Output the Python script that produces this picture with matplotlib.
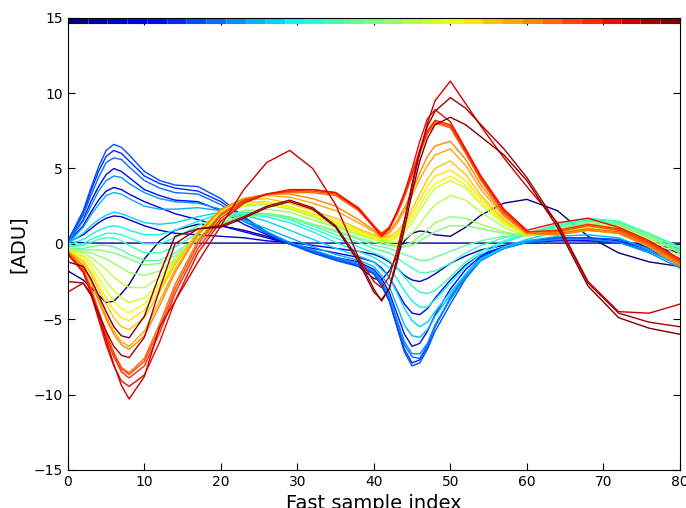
import numpy as np
import matplotlib
matplotlib.use('Agg')
import matplotlib.pyplot as plt

# sample positions (fast sample index)
x = [0, 2, 3, 4, 5, 6, 7, 8, 10, 12, 14, 17, 20, 23, 26, 29, 32, 35, 38,
     40, 41, 42, 43, 44, 45, 46, 47, 48, 50, 52, 54, 57, 60, 64, 68, 72, 76, 80]

# traces, in colour order (dark blue -> dark red)
navy_odd = [-1.8, -2.4, -2.9, -3.4, -3.9, -3.8, -3.3, -2.7, -1.0, 0.2, 0.9, 1.3, 1.2, 0.9, 0.5, 0.0, -0.5, -1.0, -1.5,
            -2.3, -2.4, -1.8, -0.8, 0.2, 0.7, 0.85, 0.8, 0.6, 0.5, 1.1, 1.9, 2.7, 2.95, 2.2, 0.5, -0.6, -1.2, -1.5]
flat_zero = [0.1, 0.08, 0.06, 0.05, 0.05, 0.05, 0.05, 0.05, 0.05, 0.05, 0.05, 0.05, 0.05, 0.05, 0.05, 0.05, 0.05, 0.05, 0.05,
             0.05, 0.05, 0.05, 0.05, 0.05, 0.05, 0.05, 0.05, 0.05, 0.05, 0.05, 0.05, 0.05, 0.05, 0.05, 0.05, 0.05, 0.05, 0.05]
blue_a = [0.1, 0.6, 1.0, 1.4, 1.7, 1.85, 1.8, 1.6, 1.2, 0.9, 0.7, 0.6, 0.5, 0.4, 0.2, 0.1, -0.1, -0.3, -0.5,
          -0.7, -0.9, -1.2, -1.6, -2.1, -2.4, -2.5, -2.3, -2.0, -1.3, -0.8, -0.4, -0.1, 0.1, 0.2, 0.2, 0.1, -0.1, -0.3]
blue_b = [0.1, 1.2, 2.1, 2.9, 3.5, 3.74, 3.6, 3.3, 2.8, 2.4, 2.0, 1.6, 1.2, 0.8, 0.4, 0.0, -0.3, -0.6, -0.9,
          -1.2, -1.6, -2.2, -3.1, -4.0, -4.6, -4.7, -4.3, -3.6, -2.4, -1.4, -0.7, -0.2, 0.1, 0.3, 0.3, 0.1, -0.2, -0.6]
blue_c = [0.1, 1.6, 2.8, 3.8, 4.6, 5.0, 4.8, 4.4, 3.6, 3.2, 2.9, 2.8, 2.2, 1.3, 0.6, 0.0, -0.5, -0.9, -1.2,
          -1.7, -2.3, -3.2, -4.6, -6.0, -6.8, -6.6, -5.8, -4.7, -3.0, -1.7, -0.8, -0.2, 0.1, 0.3, 0.2, 0.1, -0.2, -0.5]
blue_d = [0.2, 2.0, 3.5, 4.8, 5.8, 6.2, 6.0, 5.5, 4.5, 4.0, 3.7, 3.5, 2.8, 1.7, 0.7, 0.0, -0.6, -1.0, -1.4,
          -2.0, -2.7, -3.7, -5.4, -7.0, -7.9, -7.7, -6.8, -5.5, -3.6, -2.0, -0.9, -0.3, 0.1, 0.4, 0.4, 0.2, -0.4, -1.2]
blue_e = [0.2, 2.2, 3.7, 5.1, 6.2, 6.6, 6.4, 5.9, 4.8, 4.2, 3.9, 3.8, 3.0, 1.8, 0.8, 0.0, -0.6, -1.1, -1.5,
          -2.0, -2.8, -3.8, -5.5, -7.2, -8.1, -7.9, -7.0, -5.8, -4.0, -2.3, -1.1, -0.3, 0.2, 0.4, 0.4, 0.3, -0.3, -1.0]
blue_f = [0.1, 1.9, 3.2, 4.4, 5.4, 5.7, 5.6, 5.1, 4.2, 3.7, 3.4, 3.3, 2.6, 1.5, 0.7, 0.0, -0.5, -1.0, -1.4,
          -1.9, -2.6, -3.6, -5.1, -6.7, -7.5, -7.6, -6.7, -5.4, -3.6, -2.1, -1.0, -0.3, 0.1, 0.3, 0.3, 0.1, -0.5, -1.4]
blue_g = [0.1, 1.5, 2.5, 3.5, 4.2, 4.5, 4.4, 4.0, 3.4, 3.0, 2.8, 2.7, 2.3, 1.5, 0.8, 0.1, -0.4, -0.9, -1.3,
          -1.8, -2.5, -3.4, -5.0, -6.5, -7.3, -7.3, -6.6, -5.4, -3.7, -2.2, -1.1, -0.3, 0.1, 0.3, 0.3, 0.1, -0.6, -1.6]
blue_h = [0.0, 1.1, 1.9, 2.6, 3.2, 3.4, 3.3, 3.0, 2.5, 2.3, 2.3, 2.4, 2.2, 1.6, 1.0, 0.4, -0.2, -0.7, -1.1,
          -1.5, -2.1, -2.8, -4.1, -5.4, -6.1, -6.2, -5.7, -4.8, -3.4, -2.0, -1.0, -0.3, 0.2, 0.5, 0.6, 0.4, -0.4, -1.5]
sky_a = [0.0, 0.7, 1.2, 1.6, 1.9, 2.1, 2.0, 1.8, 1.4, 1.3, 1.4, 1.8, 2.1, 1.9, 1.5, 0.9, 0.3, -0.3, -0.8,
         -1.2, -1.7, -2.2, -3.2, -4.3, -5.1, -5.5, -5.2, -4.5, -3.2, -2.0, -1.0, -0.2, 0.3, 0.8, 1.0, 0.7, -0.1, -1.0]
cyan_a = [-0.1, 0.3, 0.6, 0.9, 1.1, 1.2, 1.1, 0.9, 0.6, 0.6, 0.9, 1.5, 2.0, 2.0, 1.8, 1.4, 0.8, 0.1, -0.5,
          -0.9, -1.2, -1.6, -2.3, -3.1, -3.8, -4.2, -4.2, -3.7, -2.6, -1.5, -0.7, 0.1, 0.6, 1.2, 1.6, 1.3, 0.4, -0.4]
cyan_b = [-0.2, 0.0, 0.3, 0.5, 0.7, 0.7, 0.6, 0.4, 0.0, 0.0, 0.4, 1.2, 1.9, 2.1, 2.0, 1.6, 1.0, 0.4, -0.2,
          -0.6, -0.8, -1.1, -1.6, -2.2, -2.8, -3.2, -3.3, -3.1, -2.2, -1.2, -0.5, 0.2, 0.7, 1.3, 1.7, 1.5, 0.6, -0.3]
teal_a = [-0.2, -0.1, 0.1, 0.3, 0.4, 0.4, 0.2, -0.1, -0.6, -0.6, -0.2, 0.7, 1.6, 2.0, 2.0, 1.7, 1.2, 0.6, 0.1,
          -0.3, -0.45, -0.6, -0.9, -1.3, -1.6, -1.9, -1.9, -1.8, -1.3, -0.6, -0.1, 0.4, 0.7, 1.2, 1.6, 1.5, 0.7, -0.2]
teal_b = [-0.3, -0.3, -0.2, -0.1, -0.1, -0.2, -0.4, -0.7, -1.1, -1.1, -0.6, 0.4, 1.4, 1.9, 2.0, 1.8, 1.3, 0.8, 0.3,
          -0.1, -0.2, -0.3, -0.5, -0.7, -0.9, -1.1, -1.1, -0.9, -0.5, -0.1, 0.2, 0.5, 0.6, 1.1, 1.5, 1.4, 0.6, -0.3]
green_a = [-0.3, -0.4, -0.4, -0.4, -0.5, -0.6, -0.8, -1.0, -1.4, -1.3, -0.8, 0.3, 1.3, 1.8, 1.9, 1.7, 1.3, 0.9, 0.4,
           0.1, 0.0, -0.1, -0.2, -0.2, -0.1, 0.2, 0.5, 0.8, 1.2, 1.2, 1.0, 0.7, 0.5, 1.0, 1.4, 1.3, 0.5, -0.5]
green_b = [-0.4, -0.5, -0.6, -0.8, -1.0, -1.3, -1.6, -1.9, -2.1, -1.8, -1.0, 0.4, 1.6, 2.2, 2.3, 2.1, 1.6, 1.1, 0.6,
           0.3, 0.1, 0.0, -0.1, -0.1, 0.1, 0.5, 0.9, 1.4, 1.8, 1.7, 1.3, 0.8, 0.5, 0.9, 1.3, 1.2, 0.4, -0.6]
lime_a = [-0.4, -0.6, -0.9, -1.3, -1.7, -2.2, -2.6, -2.9, -2.9, -2.2, -1.1, 0.6, 1.9, 2.5, 2.6, 2.3, 1.8, 1.2, 0.6,
          0.3, 0.2, 0.1, 0.1, 0.3, 0.7, 1.3, 2.0, 2.6, 3.2, 2.9, 2.1, 1.1, 0.5, 0.8, 1.2, 1.1, 0.3, -0.8]
lime_b = [-0.4, -0.8, -1.2, -1.8, -2.5, -3.1, -3.6, -3.9, -3.6, -2.6, -1.2, 0.7, 2.0, 2.6, 2.7, 2.4, 1.9, 1.3, 0.7,
          0.3, 0.2, 0.2, 0.4, 0.8, 1.4, 2.2, 3.0, 3.7, 4.2, 3.7, 2.6, 1.3, 0.6, 0.8, 1.1, 0.9, 0.1, -1.0]
yellow_a = [-0.4, -0.9, -1.5, -2.3, -3.1, -3.8, -4.3, -4.57, -4.0, -2.8, -1.3, 0.7, 2.1, 2.7, 2.7, 2.4, 1.9, 1.4, 0.8,
            0.4, 0.3, 0.3, 0.5, 1.0, 1.7, 2.5, 3.4, 4.0, 4.5, 3.9, 2.8, 1.4, 0.6, 0.7, 1.0, 0.8, 0.0, -1.1]
yellow_b = [-0.4, -1.1, -1.8, -2.7, -3.6, -4.4, -4.9, -5.1, -4.4, -3.0, -1.3, 0.8, 2.2, 2.8, 2.8, 2.5, 2.0, 1.5, 0.9,
            0.5, 0.3, 0.4, 0.6, 1.2, 2.0, 2.9, 3.8, 4.5, 4.9, 4.2, 3.0, 1.5, 0.6, 0.7, 1.0, 0.7, -0.1, -1.2]
amber_a = [-0.5, -1.2, -2.0, -3.0, -4.0, -4.9, -5.5, -5.7, -4.9, -3.2, -1.4, 0.8, 2.3, 2.9, 3.0, 2.7, 2.2, 1.7, 1.0,
           0.6, 0.4, 0.5, 0.8, 1.4, 2.3, 3.3, 4.3, 5.0, 5.5, 4.6, 3.2, 1.6, 0.6, 0.6, 0.9, 0.7, -0.2, -1.3]
orange_a = [-0.5, -1.4, -2.4, -3.6, -4.8, -5.8, -6.5, -6.8, -5.8, -3.8, -1.7, 0.7, 2.3, 3.0, 3.2, 3.1, 2.7, 2.2, 1.4,
            0.8, 0.4, 0.7, 1.3, 2.2, 3.2, 4.3, 5.2, 5.9, 6.3, 5.2, 3.6, 1.8, 0.7, 0.6, 0.9, 0.7, -0.2, -1.4]
orange_b = [-0.5, -1.5, -2.5, -3.8, -5.0, -6.0, -6.7, -7.0, -6.1, -4.1, -1.9, 0.6, 2.3, 3.0, 3.3, 3.3, 3.0, 2.5, 1.6,
            0.9, 0.5, 0.8, 1.5, 2.4, 3.5, 4.7, 5.8, 6.5, 6.8, 5.6, 3.9, 1.9, 0.7, 0.6, 0.9, 0.7, -0.2, -1.5]
red_a = [-0.6, -1.7, -2.9, -4.4, -5.9, -7.2, -8.2, -8.56, -7.6, -5.3, -2.7, 0.2, 2.0, 2.9, 3.3, 3.4, 3.4, 3.2, 2.2,
         1.1, 0.6, 1.0, 1.9, 3.1, 4.5, 6.0, 7.3, 8.0, 7.7, 6.0, 4.2, 2.0, 0.7, 0.7, 1.0, 0.8, -0.1, -1.3]
red_b = [-0.6, -1.7, -3.0, -4.5, -6.0, -7.3, -8.3, -8.68, -7.8, -5.6, -3.0, 0.0, 1.9, 2.9, 3.3, 3.5, 3.5, 3.3, 2.3,
         1.2, 0.6, 1.0, 2.0, 3.2, 4.6, 6.1, 7.4, 8.1, 7.8, 6.1, 4.3, 2.1, 0.8, 0.8, 1.2, 0.9, 0.0, -1.2]
red_c = [-0.7, -1.8, -3.1, -4.6, -6.2, -7.5, -8.5, -8.9, -8.1, -5.9, -3.3, -0.3, 1.7, 2.8, 3.3, 3.5, 3.6, 3.4, 2.4,
         1.2, 0.7, 1.1, 2.1, 3.3, 4.7, 6.2, 7.5, 8.2, 7.9, 6.2, 4.4, 2.2, 0.8, 0.9, 1.3, 1.0, 0.1, -1.1]
red_d = [-0.7, -1.9, -3.3, -5.0, -6.7, -8.1, -9.1, -9.46, -8.7, -6.5, -3.8, -0.6, 1.5, 2.7, 3.3, 3.6, 3.6, 3.4, 2.3,
         1.1, 0.5, 1.0, 2.1, 3.4, 5.0, 6.8, 8.3, 8.9, 8.1, 6.3, 4.5, 2.3, 0.9, 1.4, 1.7, 1.1, 0.2, -1.0]
crimson = [-3.2, -2.6, -3.3, -4.8, -6.4, -8.0, -9.4, -10.3, -8.8, -5.5, -3.8, -1.2, 1.2, 3.6, 5.4, 6.2, 5.0, 2.6, -0.9,
           -2.5, -2.9, -2.2, -0.5, 1.6, 3.8, 6.0, 8.0, 9.5, 10.8, 9.3, 7.8, 5.7, 3.8, 1.4, -2.5, -4.5, -4.6, -4.0]
darkred = [-2.5, -2.6, -3.4, -4.6, -5.8, -6.8, -7.4, -7.55, -6.2, -3.0, 0.0, 1.0, 1.2, 1.8, 2.5, 2.9, 2.4, 1.2, -1.0,
           -3.0, -3.8, -3.0, -1.0, 1.5, 4.0, 6.2, 7.8, 8.8, 9.7, 9.0, 7.9, 6.3, 4.4, 1.3, -2.6, -4.6, -5.2, -5.5]
maroon = [-1.2, -1.5, -2.3, -3.4, -4.5, -5.5, -6.1, -6.24, -4.8, -2.0, 0.5, 1.0, 1.1, 1.7, 2.4, 2.8, 2.3, 1.1, -1.2,
          -3.2, -3.7, -3.0, -1.3, 1.0, 3.4, 5.5, 7.0, 7.9, 8.4, 7.9, 7.1, 5.9, 4.2, 1.1, -2.8, -4.9, -5.6, -6.0]

curves = [navy_odd, flat_zero, blue_a, blue_b, blue_c, blue_d, blue_e, blue_f, blue_g, blue_h,
          sky_a, cyan_a, cyan_b, teal_a, teal_b, green_a, green_b, lime_a, lime_b, yellow_a,
          yellow_b, amber_a, orange_a, orange_b, red_a, red_b, red_c, red_d, crimson, darkred, maroon]

xmin, xmax = 0, 80
ymin, ymax = -15, 15

fig = plt.figure(figsize=(6.86, 5.08), dpi=100)
ax = fig.add_axes([0.099, 0.075, 0.892, 0.89])

colors = plt.cm.jet(np.linspace(0, 1, len(curves)))
for y, c in zip(curves, colors):
    ax.plot(x, y, color=c, lw=1.0)

# colour key band along the top edge
edges = np.linspace(xmin, xmax, len(curves) + 1)
for i, c in enumerate(colors):
    ax.plot(edges[i:i + 2], [ymax, ymax], color=c, lw=8, solid_capstyle='butt')

ax.set_xlim(xmin, xmax)
ax.set_ylim(ymin, ymax)
ax.tick_params(direction='in', top=True, right=True, length=5, labelsize=10)
ax.set_xlabel('Fast sample index', fontsize=14)
ax.set_ylabel('[ADU]', fontsize=14)

fig.savefig('out.png')
